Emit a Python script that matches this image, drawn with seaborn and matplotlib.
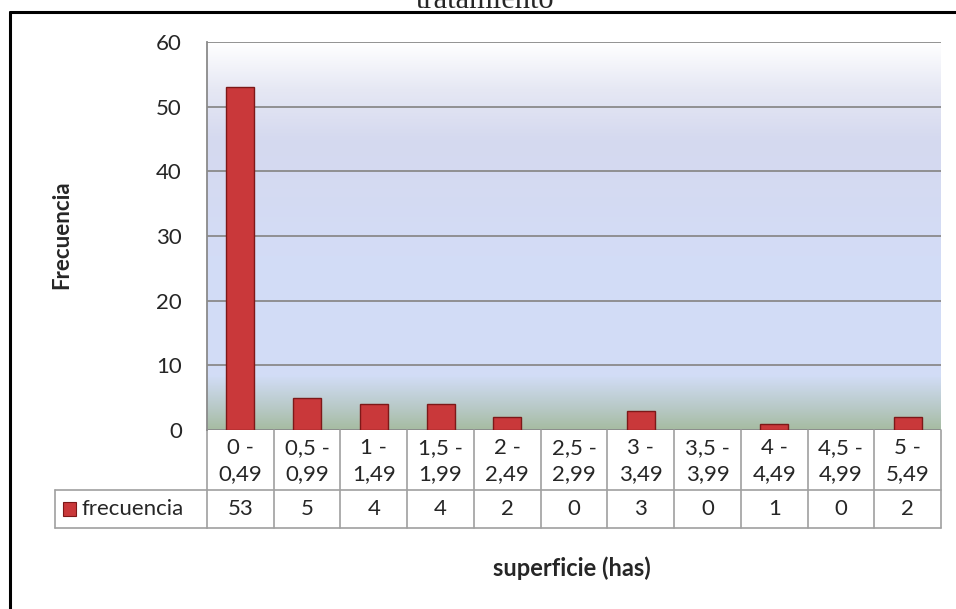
import numpy as np
import pandas as pd
import matplotlib.pyplot as plt
import seaborn as sns
from matplotlib.colors import LinearSegmentedColormap
from matplotlib.lines import Line2D
from matplotlib.patches import Rectangle

# data
categories = ["0 -\n0,49", "0,5 -\n0,99", "1 -\n1,49", "1,5 -\n1,99", "2 -\n2,49",
              "2,5 -\n2,99", "3 -\n3,49", "3,5 -\n3,99", "4 -\n4,49", "4,5 -\n4,99",
              "5 -\n5,49"]
frecuencia = [53, 5, 4, 4, 2, 0, 3, 0, 1, 0, 2]
series_name = "frecuencia"

df = pd.DataFrame({"cat": categories, "val": frecuencia})

sns.set_style("white")
plt.rcParams['font.family'] = ['Lato', 'DejaVu Sans']

fig = plt.figure(figsize=(9.56, 6.09), dpi=100)
ax = fig.add_axes([207 / 956, 1 - 430 / 609, 734 / 956, 388 / 609])

# gradient plot area
grad = LinearSegmentedColormap.from_list(
    "bg", [(0.0, "#a6bca2"), (0.06, "#b9cac9"), (0.14, "#d2ddf7"), (0.45, "#d3dcf6"),
           (0.75, "#d5d9ef"), (0.88, "#e6e8f4"), (1.0, "#ffffff")])
ax.imshow(np.linspace(0, 1, 256).reshape(-1, 1), cmap=grad, origin="lower",
          extent=[-0.5, len(categories) - 0.5, 0, 60], aspect="auto", zorder=0)

sns.barplot(data=df, x="cat", y="val", color="#c9383a", width=0.42,
            edgecolor="#7d1818", linewidth=1.0, saturation=1, ax=ax, zorder=3)
for p in ax.patches:
    if p.get_height() == 0:
        p.set_visible(False)

ax.set_xlim(-0.5, len(categories) - 0.5)
ax.set_ylim(0, 60)
ax.set_yticks(range(0, 61, 10))
ax.yaxis.grid(True, color="#8a8a8a", linewidth=1.3)
for gl in ax.get_ygridlines():
    gl.set_zorder(1)
ax.tick_params(axis="y", length=0, labelsize=16, pad=18)
ax.set_xticks([])
ax.set_xlabel("")
ax.set_ylabel("")
for s in ["top", "right", "bottom"]:
    ax.spines[s].set_visible(False)
ax.spines["left"].set_color("#8a8a8a")
ax.spines["left"].set_linewidth(1.3)

# data table under the axis
tr = ax.get_xaxis_transform()
row1 = -60 / 388
row2 = -98 / 388
gray = "#a0a0a0"
n = len(categories)
for i in range(n + 1):
    x = i - 0.5
    ax.plot([x, x], [0, row2], transform=tr, color=gray, lw=1.2, clip_on=False)
ax.plot([-0.5, n - 0.5], [row1, row1], transform=tr, color=gray, lw=1.2, clip_on=False)
ax.plot([-0.5, n - 0.5], [row2, row2], transform=tr, color=gray, lw=1.2, clip_on=False)
for i, (c, v) in enumerate(zip(categories, frecuencia)):
    ax.text(i, row1 / 2 - 1 / 388, c, transform=tr, ha="center", va="center",
            fontsize=16, linespacing=1.35)
    ax.text(i, (row1 + row2) / 2, str(v), transform=tr, ha="center", va="center",
            fontsize=16)

# legend cell
lx = -0.5 - 152 / 734 * n
ax.plot([lx, -0.5], [row1, row1], transform=tr, color=gray, lw=1.2, clip_on=False)
ax.plot([lx, -0.5], [row2, row2], transform=tr, color=gray, lw=1.2, clip_on=False)
ax.plot([lx, lx], [row1, row2], transform=tr, color=gray, lw=1.2, clip_on=False)
ax.add_patch(Rectangle((lx + 0.12, (row1 + row2) / 2 - 0.018), 0.2, 0.036,
                       transform=tr, facecolor="#c9383a", edgecolor="#7d1818",
                       lw=0.8, clip_on=False))
ax.text(lx + 0.4, (row1 + row2) / 2, series_name, transform=tr, ha="left",
        va="center", fontsize=16)

# axis titles
fig.text(62 / 956, 1 - 235 / 609, "Frecuencia", rotation=90, ha="center",
         va="center", fontsize=16, fontweight="bold")
fig.text(572 / 956, 1 - 568 / 609, "superficie (has)", ha="center", va="center",
         fontsize=17, fontweight="bold")

# clipped title at the very top
fig.text(485 / 956, 1 - 8 / 609, "tratamiento", ha="center", va="baseline",
         fontsize=22, family=["Liberation Serif", "DejaVu Serif"])

# outer frame
fig.add_artist(Line2D([10 / 956, 10 / 956], [0, 1 - 12 / 609], color="black",
                      lw=2.2, transform=fig.transFigure))
fig.add_artist(Line2D([10 / 956, 1], [1 - 12 / 609, 1 - 12 / 609], color="black",
                      lw=2.2, transform=fig.transFigure))

fig.savefig("out.png", dpi=100)
